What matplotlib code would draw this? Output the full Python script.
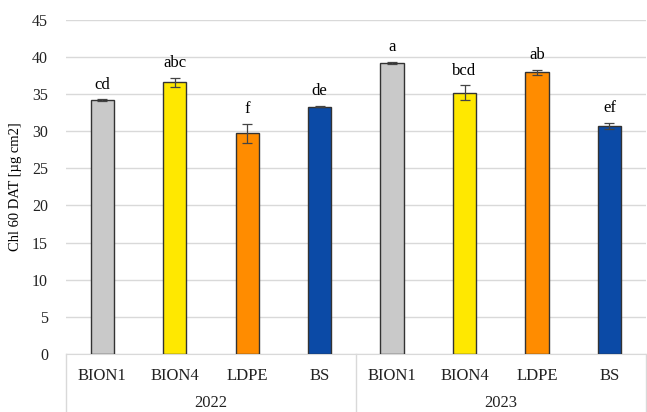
import matplotlib
matplotlib.use('Agg')
import matplotlib.pyplot as plt
import numpy as np

plt.rcParams['font.family'] = ['Liberation Serif', 'DejaVu Serif']

# Chlorophyll content 60 days after transplanting, per mulch and season
years = ['2022', '2023']
treatments = ['BION1', 'BION4', 'LDPE', 'BS']
chl_2022 = [34.2, 36.6, 29.7, 33.3]
chl_2023 = [39.2, 35.2, 37.9, 30.7]
err_2022 = [0.1, 0.6, 1.3, 0.1]
err_2023 = [0.1, 0.95, 0.4, 0.4]
letters_2022 = ['cd', 'abc', 'f', 'de']
letters_2023 = ['a', 'bcd', 'ab', 'ef']

colors = ['#C9C9C9', '#FFE800', '#FF8C00', '#0B4AA6']

values = chl_2022 + chl_2023
errors = err_2022 + err_2023
letters = letters_2022 + letters_2023
bar_colors = colors * len(years)
x = np.arange(len(values))

fig = plt.figure(figsize=(6.47, 4.12), dpi=100)
ax = fig.add_axes([0.102, 0.141, 0.896, 0.811])

ax.bar(x, values, width=0.32, color=bar_colors, edgecolor='#333333',
       linewidth=1.0, zorder=3)
ax.errorbar(x, values, yerr=errors, fmt='none', ecolor='#444444',
            elinewidth=0.9, capsize=3.5, capthick=0.9, zorder=4)

for xi, v, e, lab in zip(x, values, errors, letters):
    ax.text(xi, v + e + 0.9, lab, ha='center', va='bottom', fontsize=12)

ax.set_xlim(-0.5, len(values) - 0.5)
ax.set_ylim(0, 45)
ax.set_yticks(np.arange(0, 46, 5))
ax.tick_params(axis='y', length=0, labelsize=11.5, pad=13, colors='#222222')
ax.set_xticks([])
ax.grid(axis='y', color='#D9D9D9', linewidth=1.0, zorder=0)
for side in ['top', 'right', 'left']:
    ax.spines[side].set_visible(False)
ax.spines['bottom'].set_color('#D9D9D9')
ax.set_ylabel('Chl 60 DAT [µg cm2]', fontsize=10.5, labelpad=7)

# Two-level category axis: treatment names, then year groups
trans = ax.get_xaxis_transform()
for xi, name in zip(x, treatments * len(years)):
    ax.text(xi, -0.066, name, transform=trans, ha='center', va='center',
            fontsize=12, color='#222222')
n = len(treatments)
for i, yr in enumerate(years):
    ax.text(i * n + (n - 1) / 2, -0.148, yr, transform=trans, ha='center',
            va='center', fontsize=12, color='#222222')
for xb in [-0.5 + k * n for k in range(len(years) + 1)]:
    ax.plot([xb, xb], [0, -0.2], transform=trans, color='#D9D9D9',
            linewidth=1.0, clip_on=False)

fig.savefig('out.png', dpi=100, facecolor='white')
